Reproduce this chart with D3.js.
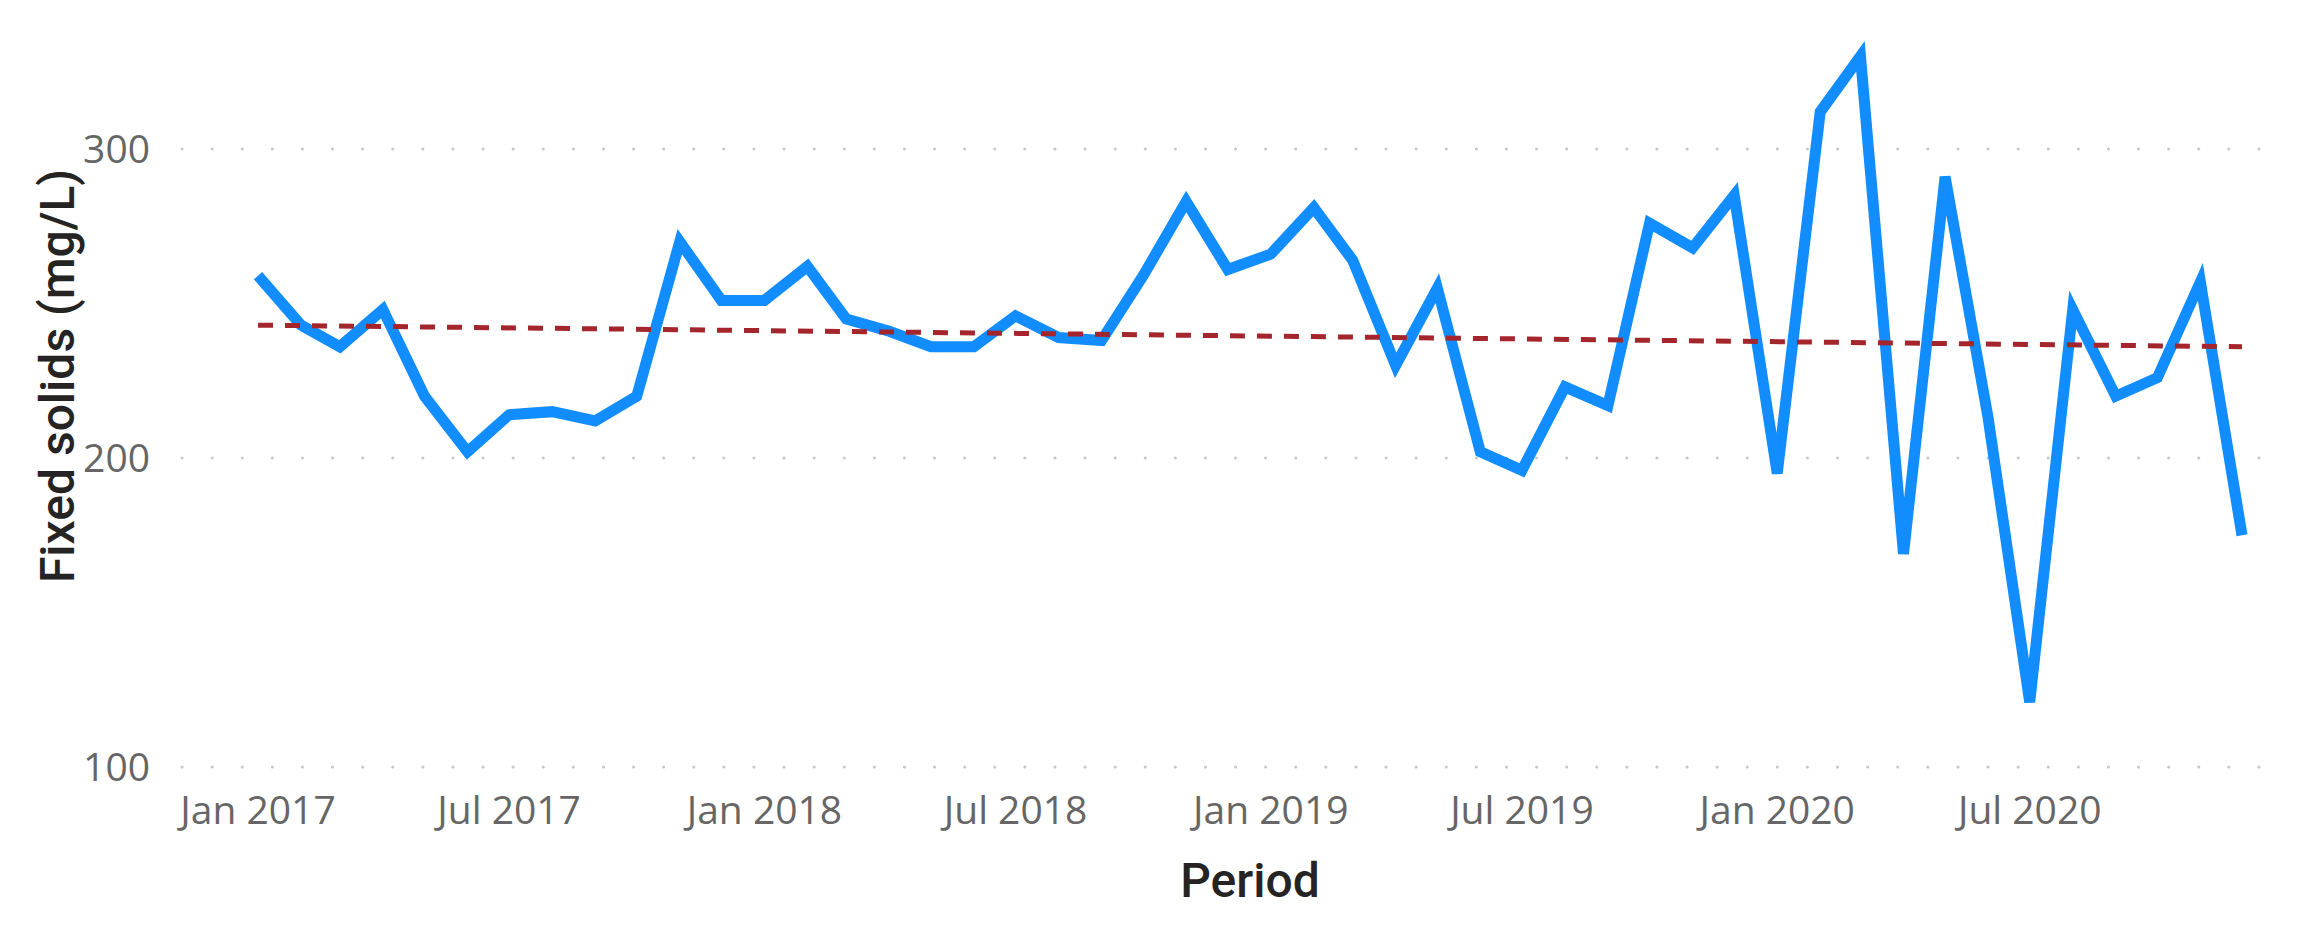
<!DOCTYPE html>
<html>
<head>
<meta charset="utf-8">
<script src="https://cdn.jsdelivr.net/npm/d3@7"></script>
<style>
  body { margin: 0; background: #fff; }
  text { font-family: "Open Sans", sans-serif; }
</style>
</head>
<body>
<svg id="chart" width="2301" height="948"></svg>
<script>
// monthly fixed solids, Jan 2017 .. Dec 2020
const values = [259, 243, 236, 248, 220, 202, 214, 215, 212, 220, 270, 251,
  251, 262, 245, 241, 236, 236, 246, 239, 238, 259, 283, 261,
  266, 281, 264, 230, 255, 202, 196, 223, 217, 276, 268, 285,
  195, 312, 330, 169, 291, 213, 121, 248, 220, 226, 257, 175]
const trendEnds = [243, 236]
const yTicks = [100, 200, 300]
const xTickLabels = ['Jan 2017', 'Jul 2017', 'Jan 2018', 'Jul 2018', 'Jan 2019', 'Jul 2019', 'Jan 2020', 'Jul 2020']

const svg = d3.select('#chart')
const months = values.map((v, i) => new Date(2017, i, 1))

const x = d3.scaleTime()
  .domain([months[0], months[months.length - 1]])
  .range([258, 2242])
const y = d3.scaleLinear().domain([100, 300]).range([767, 149])

// dotted gridlines
svg.append('g').selectAll('line').data(yTicks).join('line')
  .attr('x1', 182).attr('x2', 2266)
  .attr('y1', d => y(d)).attr('y2', d => y(d))
  .attr('stroke', '#c8c8c8').attr('stroke-width', 3)
  .attr('stroke-linecap', 'round')
  .attr('stroke-dasharray', '0.1,30')

svg.append('g').selectAll('text').data(yTicks).join('text')
  .attr('x', 150).attr('y', d => y(d) + 14)
  .attr('text-anchor', 'end')
  .attr('font-size', 39).attr('fill', '#666')
  .text(d => d)

const xTicks = xTickLabels.map((t, i) => new Date(2017, i * 6, 1))
svg.append('g').selectAll('text').data(xTicks).join('text')
  .attr('x', d => x(d)).attr('y', 824)
  .attr('text-anchor', 'middle')
  .attr('font-size', 39).attr('fill', '#666')
  .text((d, i) => xTickLabels[i])

// data line
svg.append('path')
  .datum(values)
  .attr('fill', 'none')
  .attr('stroke', '#118DFF')
  .attr('stroke-width', 11)
  .attr('stroke-linejoin', 'miter')
  .attr('d', d3.line().x((d, i) => x(months[i])).y(d => y(d)))

// trend line
svg.append('line')
  .attr('x1', x(months[0])).attr('x2', x(months[months.length - 1]))
  .attr('y1', y(trendEnds[0])).attr('y2', y(trendEnds[1]))
  .attr('stroke', '#A4262C').attr('stroke-width', 5)
  .attr('stroke-dasharray', '15,12')

svg.append('text')
  .attr('x', 1250).attr('y', 897)
  .attr('text-anchor', 'middle')
  .attr('font-size', 48).attr('font-weight', 500).attr('fill', '#252423')
  .style('font-family', 'Roboto, sans-serif')
  .text('Period')

svg.append('text')
  .attr('transform', 'translate(74,376) rotate(-90)')
  .attr('text-anchor', 'middle')
  .attr('font-size', 48).attr('font-weight', 500).attr('fill', '#252423')
  .style('font-family', 'Roboto, sans-serif')
  .text('Fixed solids (mg/L)')
</script>
</body>
</html>
